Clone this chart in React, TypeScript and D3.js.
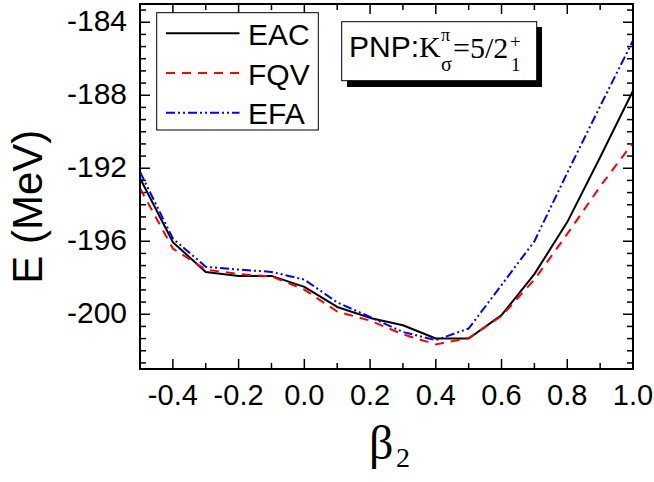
import React from "react";
import * as d3 from "d3";

const beta = [-0.5, -0.4, -0.3, -0.2, -0.1, 0.0, 0.1, 0.2, 0.3, 0.4, 0.5, 0.6, 0.7, 0.8, 0.9, 1.0];
const eac = [-192.55, -196.05, -197.68, -197.9, -197.9, -198.5, -199.6, -200.2, -200.6, -201.33, -201.33, -200.05, -197.8, -194.95, -191.4, -187.75];
const fqv = [-193.1, -196.4, -197.55, -197.8, -197.92, -198.65, -199.85, -200.35, -201.1, -201.65, -201.3, -200.1, -198.1, -195.6, -193.0, -190.6];
const efa = [-192.2, -195.85, -197.4, -197.55, -197.68, -198.1, -199.35, -200.15, -200.97, -201.42, -200.78, -198.4, -196.0, -192.25, -188.6, -185.0];

const seriesNames = ["EAC", "FQV", "EFA"];
const seriesColors = ["#000000", "#ff0000", "#0000ff"];
const seriesDash = ["none", "9,7", "9,3,2,3,2,3"];
const seriesValues = [eac, fqv, efa];

const xMajorTicks = [-0.4, -0.2, 0.0, 0.2, 0.4, 0.6, 0.8, 1.0];
const xTickLabels = ["-0.4", "-0.2", "0.0", "0.2", "0.4", "0.6", "0.8", "1.0"];
const yMajorTicks = [-184, -188, -192, -196, -200];
const yTickLabels = ["-184", "-188", "-192", "-196", "-200"];

const W = 654, H = 482;
const L = 140, R = 633, T = 4, B = 369;

export default function App() {
  const x = d3.scaleLinear().domain([-0.5, 1.0]).range([L, R]);
  const y = d3.scaleLinear().domain([-203, -183]).range([B, T]);
  const line = d3.line<number>().x((_, i) => x(beta[i])).y((d) => y(d));

  const xMinor: number[] = [];
  for (let i = -5; i <= 10; i++) xMinor.push(i / 10);
  const yMinor: number[] = [];
  for (let i = -4; i <= 25; i++) yMinor.push(-200 + (i * 2) / 3);

  const majLen = 10, minLen = 6;
  const tickStroke = { stroke: "#000", strokeWidth: 1.5 };
  const serif = "'Times New Roman', 'Liberation Serif', serif";

  return (
    <svg width={W} height={H} style={{ position: "absolute", left: 0, top: 0, background: "#fff" }}
      fontFamily="Arial, 'Liberation Sans', sans-serif">
      <rect x={0} y={0} width={W} height={H} fill="#fff" />
      {xMinor.map((v, i) => {
        const isMaj = xMajorTicks.some((m) => Math.abs(m - v) < 1e-6);
        const len = isMaj ? majLen : minLen;
        const px = x(v);
        return (
          <g key={"xt" + i}>
            <line x1={px} x2={px} y1={B} y2={B - len} {...tickStroke} />
            <line x1={px} x2={px} y1={T} y2={T + len} {...tickStroke} />
          </g>
        );
      })}
      {yMinor.map((v, i) => {
        const isMaj = yMajorTicks.some((m) => Math.abs(m - v) < 1e-6);
        const len = isMaj ? majLen : minLen;
        const py = y(v);
        return (
          <g key={"yt" + i}>
            <line x1={L} x2={L + len} y1={py} y2={py} {...tickStroke} />
            <line x1={R} x2={R - len} y1={py} y2={py} {...tickStroke} />
          </g>
        );
      })}
      {xMajorTicks.map((v, i) => (
        <text key={"xl" + i} x={x(v)} y={405} fontSize={29} textAnchor="middle">{xTickLabels[i]}</text>
      ))}
      {yMajorTicks.map((v, i) => (
        <text key={"yl" + i} x={127} y={y(v) + 9} fontSize={30} textAnchor="end">{yTickLabels[i]}</text>
      ))}
      {seriesValues.map((vals, i) => (
        <path key={"s" + i} d={line(vals) || ""} fill="none" stroke={seriesColors[i]} strokeWidth={2}
          strokeDasharray={seriesDash[i]} strokeLinejoin="round" />
      ))}
      <rect x={L} y={T} width={R - L} height={B - T} fill="none" stroke="#000" strokeWidth={2} />
      <rect x={156.7} y={12.7} width={161.6} height={117.3} fill="#fff" stroke="#000" strokeWidth={1} />
      {seriesNames.map((n, i) => {
        const ly = 33.3 + i * 39.7;
        return (
          <g key={"lg" + i}>
            <line x1={166} x2={239.5} y1={ly} y2={ly} stroke={seriesColors[i]} strokeWidth={2}
              strokeDasharray={seriesDash[i]} />
            <text x={248} y={ly + 11.7} fontSize={30}>{n}</text>
          </g>
        );
      })}
      <rect x={347} y={27} width={195} height={60} fill="#000" />
      <rect x={341.7} y={21.7} width={195} height={59} fill="#fff" stroke="#000" strokeWidth={1} />
      <text fontSize={30} y={57}>
        <tspan x={349}>PNP:</tspan>
        <tspan fontFamily={serif}>K</tspan>
      </text>
      <text fontFamily={serif}>
        <tspan x={441} y={41} fontSize={18}>π</tspan>
        <tspan x={441} y={71} fontSize={20}>σ</tspan>
        <tspan x={453} y={58} fontSize={30}>=5/2</tspan>
        <tspan x={510} y={48} fontSize={19}>+</tspan>
        <tspan x={511} y={71} fontSize={19}>1</tspan>
      </text>
      <text transform="translate(41.7,206.7) rotate(-90)" fontSize={42} textAnchor="middle">E (MeV)</text>
      <text fontFamily={serif}>
        <tspan x={369} y={459} fontSize={48}>β</tspan>
        <tspan x={396} y={467} fontSize={28}>2</tspan>
      </text>
    </svg>
  );
}
